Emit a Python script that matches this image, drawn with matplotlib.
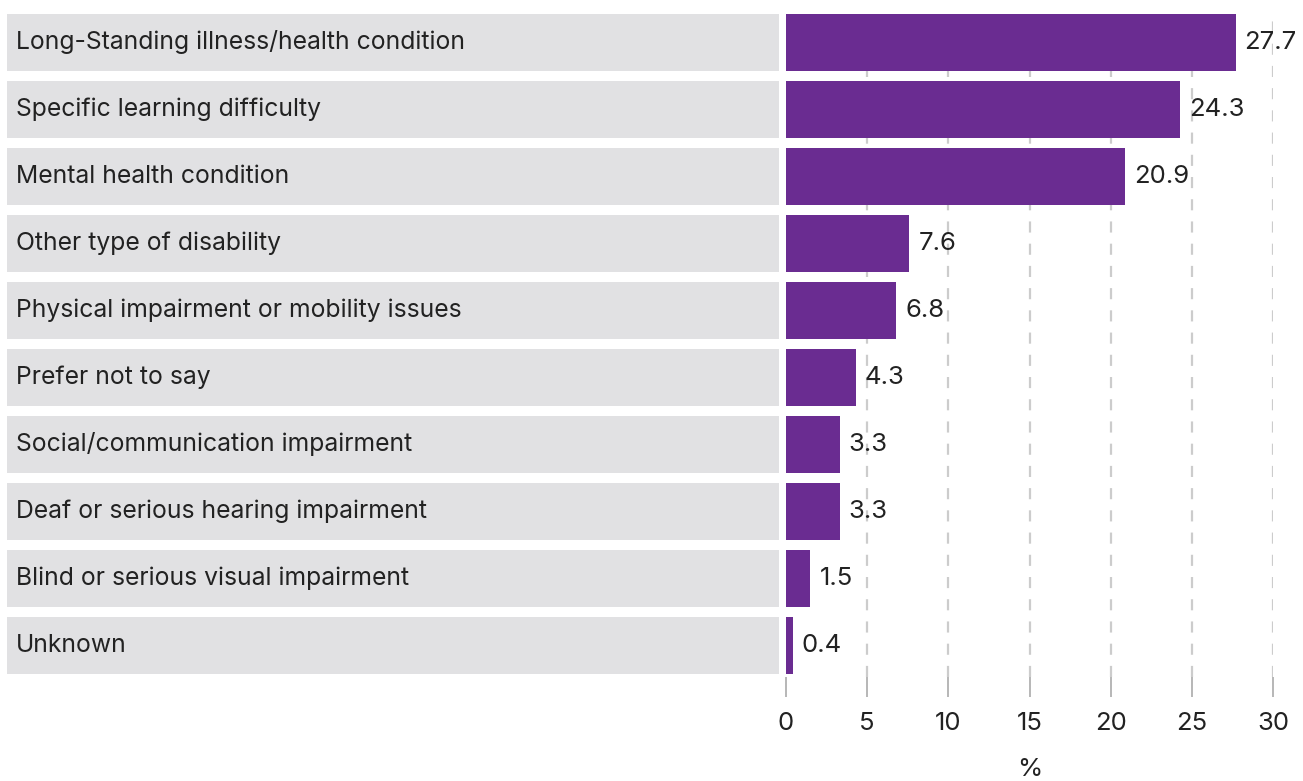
import matplotlib.pyplot as plt
import numpy as np

plt.rcParams['font.family'] = ['Inter', 'DejaVu Sans']

categories = [
    'Long-Standing illness/health condition',
    'Specific learning difficulty',
    'Mental health condition',
    'Other type of disability',
    'Physical impairment or mobility issues',
    'Prefer not to say',
    'Social/communication impairment',
    'Deaf or serious hearing impairment',
    'Blind or serious visual impairment',
    'Unknown',
]
values = [27.7, 24.3, 20.9, 7.6, 6.8, 4.3, 3.3, 3.3, 1.5, 0.4]
xticks = [0, 5, 10, 15, 20, 25, 30]

purple = '#6a2c91'
band = '#e1e1e3'
ink = '#222222'

fig = plt.figure(figsize=(13.03, 7.81), dpi=100)
W, H = 1303, 781
ax = fig.add_axes([7 / W, 1 - 677 / H, (1273 - 7) / W, (677 - 14) / H])

left_edge = -48.0   # where the grey label band starts
y = np.arange(len(categories))
h = 0.85

# dashed guides behind everything
for t in xticks[1:]:
    ax.axvline(t, color='#cccccc', lw=1.6, ls=(0, (5, 5)), zorder=0)

# grey label bands on the left
ax.barh(y, -0.43 - left_edge, left=left_edge, height=h, color=band, zorder=1)
for yi, name in zip(y, categories):
    ax.text(left_edge + 0.55, yi, name, va='center', ha='left', fontsize=17.8, color=ink, zorder=3)

# value bars
ax.barh(y, values, height=h, color=purple, zorder=2)
for yi, v in zip(y, values):
    ax.text(v + 0.55, yi, f'{v:.1f}', va='center', ha='left', fontsize=18.5, color=ink, zorder=3)

ax.set_xlim(left_edge, 30)
ax.set_ylim(len(categories) - 1 + 0.477, -0.425)
ax.set_yticks([])
ax.set_xticks(xticks)
ax.set_xticklabels([str(t) for t in xticks], fontsize=18.5, color=ink)
ax.tick_params(axis='x', direction='out', length=14.4, width=1.2, color='#aaaaaa', pad=11)
for s in ax.spines.values():
    s.set_visible(False)

fig.text((786 + 1273) / 2 / W, 1 - 770 / H, '%', ha='center', va='center', fontsize=18.5, color=ink)

fig.savefig('out.png', dpi=100)
